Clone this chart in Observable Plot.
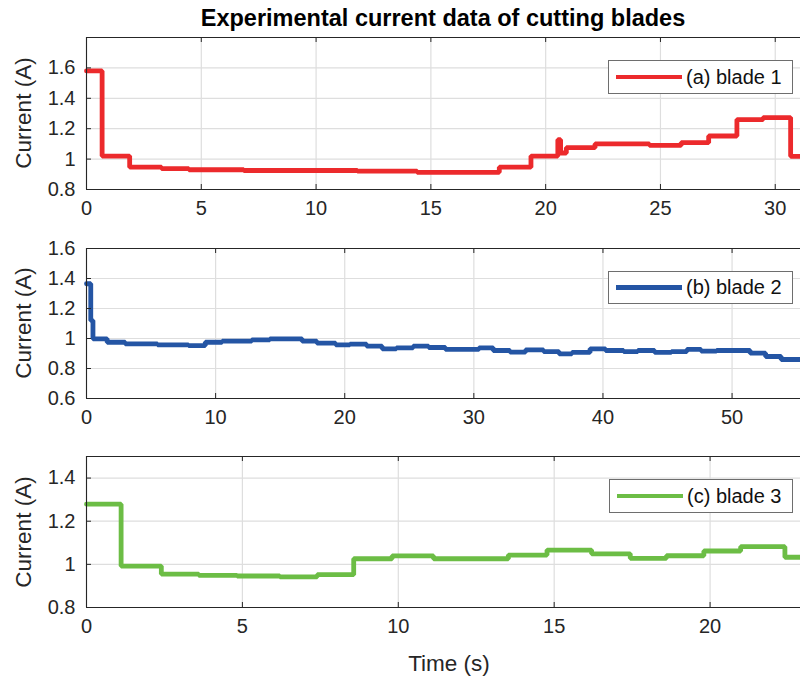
<!DOCTYPE html>
<html>
<head>
<meta charset="utf-8">
<script src="https://cdn.jsdelivr.net/npm/d3@7"></script>
<script src="https://cdn.jsdelivr.net/npm/@observablehq/plot@0.6"></script>
<style>
  html, body { margin: 0; padding: 0; background: #fff; }
  #root { position: relative; width: 800px; height: 680px; overflow: hidden; font-family: "Liberation Sans", Arial, sans-serif; color: #262626; }
  .abs { position: absolute; }
  .title { left: 86px; width: 714px; top: 5px; text-align: center; font-weight: bold; font-size: 23.5px; color: #000; line-height: 26px; white-space: nowrap; }
  .ylab { font-size: 22.5px; white-space: nowrap; transform: translate(-50%, -50%) rotate(-90deg); }
  .xlab { font-size: 22.5px; white-space: nowrap; transform: translate(-50%, -50%); }
  .legend { background: #fff; border: 1px solid #6e6e6e; box-sizing: border-box; }
  .legend .sw { position: absolute; left: 7px; height: 4.5px; width: 66px; }
  .legend .tx { position: absolute; left: 77px; font-size: 20px; white-space: nowrap; color: #111; }
</style>
</head>
<body>
<div id="root"></div>
<script>
// ---------- data ----------
const titleText = "Experimental current data of cutting blades";
const yLabel = "Current (A)";
const xLabel = "Time (s)";
const seriesNames = ["(a) blade 1", "(b) blade 2", "(c) blade 3"];
const seriesColors = ["#ec2a2c", "#2455a4", "#6cbd45"];

// blade 1 (step breakpoints)
const blade1Time = [0, 0.68, 1.88, 3.27, 4.46, 6.85, 11.8, 14.4, 17.98, 19.36, 20.53, 20.65, 20.9, 22.15, 24.52, 25.9, 27.1, 28.33, 29.47, 30.67, 31.1];
const blade1Current = [1.58, 1.02, 0.947, 0.937, 0.93, 0.925, 0.921, 0.913, 0.947, 1.02, 1.128, 1.04, 1.075, 1.10, 1.09, 1.108, 1.152, 1.26, 1.273, 1.018, 1.018];

// blade 2
const blade2Time = [0, 0.33, 0.5, 1.6, 3.0, 5.5, 7.9, 9.2, 10.5, 12.8, 14.2, 16.7, 17.85, 19.3, 20.4, 21.7, 22.9, 24.0, 25.3, 26.5, 27.8, 30.4, 31.5, 32.8, 34.0, 35.4, 36.6, 37.6, 39.0, 40.2, 41.6, 42.7, 44.0, 45.3, 46.5, 47.6, 48.8, 51.4, 52.6, 53.8, 55.3];
const blade2Current = [1.365, 1.12, 0.998, 0.975, 0.964, 0.958, 0.953, 0.975, 0.982, 0.991, 0.998, 0.982, 0.969, 0.958, 0.962, 0.949, 0.931, 0.938, 0.949, 0.94, 0.927, 0.938, 0.92, 0.909, 0.924, 0.913, 0.898, 0.907, 0.931, 0.92, 0.913, 0.92, 0.907, 0.913, 0.927, 0.916, 0.92, 0.902, 0.88, 0.86, 0.86];

// blade 3
const blade3Time = [0, 1.11, 2.4, 3.6, 4.83, 6.2, 7.4, 8.57, 9.8, 11.13, 13.53, 14.77, 16.2, 17.44, 18.6, 19.8, 20.98, 22.4, 22.9];
const blade3Current = [1.279, 0.992, 0.955, 0.949, 0.946, 0.942, 0.952, 1.026, 1.039, 1.026, 1.043, 1.066, 1.049, 1.028, 1.04, 1.062, 1.082, 1.033, 1.033];

// axes (tick values and domains)
const xTicks1 = [0, 5, 10, 15, 20, 25, 30];
const yTicks1 = [0.8, 1, 1.2, 1.4, 1.6];
const xTicks2 = [0, 10, 20, 30, 40, 50];
const yTicks2 = [0.6, 0.8, 1, 1.2, 1.4, 1.6];
const xTicks3 = [0, 5, 10, 15, 20];
const yTicks3 = [0.8, 1, 1.2, 1.4];
const xDomain1 = [0, 31.1], yDomain1 = [0.8, 1.8];
const xDomain2 = [0, 55.3], yDomain2 = [0.6, 1.6];
const xDomain3 = [0, 22.9], yDomain3 = [0.8, 1.5];

// ---------- drawing ----------
const root = document.getElementById("root");
const axisColor = "#262626";
const gridColor = "#dedede";
const W = 800, ML = 86;

function panel({time, current, color, xDomain, yDomain, xTicks, yTicks, top, marginTop, frameH, marginBottom}) {
  const data = time.map((t, i) => ({t, c: current[i]}));
  const fmt = d => String(+d.toFixed(1));
  const svg = Plot.plot({
    width: W,
    height: marginTop + frameH + marginBottom,
    marginLeft: ML, marginRight: 0, marginTop, marginBottom,
    style: {fontFamily: "'Liberation Sans', Arial, sans-serif", fontSize: "20px", color: axisColor, background: "transparent", overflow: "visible"},
    x: {domain: xDomain, ticks: xTicks, tickSize: 0, tickPadding: 11, label: null, tickFormat: fmt},
    y: {domain: yDomain, ticks: yTicks, tickSize: 0, tickPadding: 11, label: null, tickFormat: fmt},
    marks: [
      Plot.ruleX(xTicks, {stroke: gridColor, strokeWidth: 1.2}),
      Plot.ruleY(yTicks, {stroke: gridColor, strokeWidth: 1.2}),
      Plot.line(data, {x: "t", y: "c", curve: "step-after", stroke: color, strokeWidth: 4.8, strokeLinejoin: "miter"}),
      Plot.tickX(xTicks, {x: d => d, stroke: axisColor, insetTop: frameH - 5}),
      Plot.tickX(xTicks, {x: d => d, stroke: axisColor, insetBottom: frameH - 5}),
      Plot.tickY(yTicks, {y: d => d, stroke: axisColor, insetRight: W - ML - 5}),
      Plot.ruleY(yDomain, {stroke: axisColor, strokeWidth: 1.1}),
      Plot.ruleX([xDomain[0]], {stroke: axisColor, strokeWidth: 1.1})
    ]
  });
  svg.style.position = "absolute";
  svg.style.left = "0px";
  svg.style.top = top + "px";
  root.appendChild(svg);
  return top + marginTop + frameH / 2;
}

const c1 = panel({time: blade1Time, current: blade1Current, color: seriesColors[0], xDomain: xDomain1, yDomain: yDomain1, xTicks: xTicks1, yTicks: yTicks1, top: 0, marginTop: 37, frameH: 152, marginBottom: 36});
const c2 = panel({time: blade2Time, current: blade2Current, color: seriesColors[1], xDomain: xDomain2, yDomain: yDomain2, xTicks: xTicks2, yTicks: yTicks2, top: 225, marginTop: 23, frameH: 150, marginBottom: 33});
const c3 = panel({time: blade3Time, current: blade3Current, color: seriesColors[2], xDomain: xDomain3, yDomain: yDomain3, xTicks: xTicks3, yTicks: yTicks3, top: 431, marginTop: 25, frameH: 151, marginBottom: 40});

// title
const t = document.createElement("div");
t.className = "abs title"; t.textContent = titleText; root.appendChild(t);

// y labels
[c1, c2, c3].forEach(cy => {
  const d = document.createElement("div");
  d.className = "abs ylab"; d.textContent = yLabel;
  d.style.left = "24px"; d.style.top = cy + "px";
  root.appendChild(d);
});

// x label
const xl = document.createElement("div");
xl.className = "abs xlab"; xl.textContent = xLabel;
xl.style.left = "449px"; xl.style.top = "664px";
root.appendChild(xl);

// legends
const legendBoxes = [{left: 608, top: 60, h: 34}, {left: 608, top: 271, h: 33}, {left: 609, top: 479, h: 34}];
legendBoxes.forEach((b, i) => {
  const L = document.createElement("div");
  L.className = "abs legend";
  L.style.left = b.left + "px"; L.style.top = b.top + "px";
  L.style.width = (793 - b.left) + "px"; L.style.height = b.h + "px";
  const sw = document.createElement("div");
  sw.className = "sw"; sw.style.background = seriesColors[i];
  sw.style.top = (b.h / 2 - 3.2) + "px";
  const tx = document.createElement("div");
  tx.className = "tx"; tx.textContent = seriesNames[i];
  tx.style.top = (b.h / 2 - 12.5) + "px"; tx.style.lineHeight = "23px";
  L.appendChild(sw); L.appendChild(tx);
  root.appendChild(L);
});
</script>
</body>
</html>
